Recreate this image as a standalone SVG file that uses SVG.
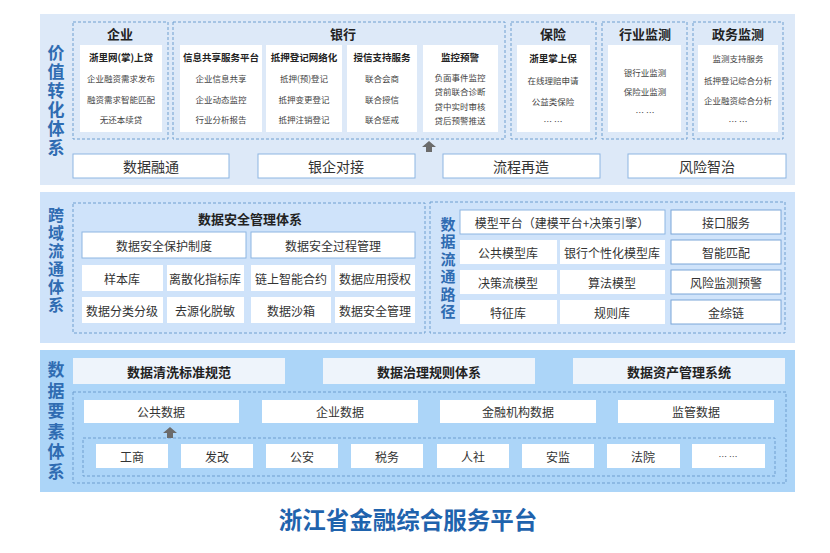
<svg xmlns="http://www.w3.org/2000/svg" width="830" height="553" viewBox="0 0 830 553">
<style>
text{font-family:"Noto Sans CJK SC","Noto Sans",sans-serif;text-anchor:middle;dominant-baseline:central}
.band1{fill:#dde9f8}
.band2{fill:#cfe3fa}
.band3{fill:#acd5f8}
.dash{fill:none;stroke:#6f9fd0;stroke-width:1;stroke-dasharray:3 2}
.wb{fill:#ffffff}
.bar{fill:#ffffff;stroke:#8db6e2;stroke-width:1}
.bb{fill:#ffffff;stroke:#7aa6d8;stroke-width:1}
.hb{fill:#eef4fb}
.vt{writing-mode:vertical-rl;text-anchor:start;font-weight:bold;fill:#2f6cb2}
.gh{font-size:13px;font-weight:bold;fill:#222}
.bt{font-size:9.5px;font-weight:bold;fill:#222}
.it{font-size:8.5px;fill:#444}
.bx{font-size:14px;fill:#333}
.md{font-size:12px;fill:#333}
.mh{font-size:13px;font-weight:bold;fill:#222}
.arr{fill:#6b6b6b}
</style>

<!-- Section backgrounds -->
<g id="bg">
<rect class="band1" x="40" y="14" width="755" height="171"/>
<rect class="band2" x="40" y="192" width="755" height="151"/>
<rect class="band3" x="40" y="350" width="755" height="142"/>
</g>

<!-- Top: 价值转化体系 -->
<g id="label-value">
<text class="vt" x="56" y="44.5" style="font-size:17px;letter-spacing:2px">价值转化体系</text>
</g>

<g id="grp-enterprise">
<rect class="dash" x="73" y="22" width="95" height="117"/>
<text class="gh" x="120" y="33">企业</text>
<rect class="wb" x="80" y="45" width="82" height="87"/>
<text class="bt" x="121" y="57">浙里网(掌)上贷</text>
<text class="it" x="121" y="78">企业融资需求发布</text>
<text class="it" x="121" y="99">融资需求智能匹配</text>
<text class="it" x="121" y="119">无还本续贷</text>
</g>

<g id="grp-bank">
<rect class="dash" x="173" y="22" width="332" height="117"/>
<text class="gh" x="343" y="33">银行</text>
<g id="bank-info">
<rect class="wb" x="180" y="45" width="82" height="87"/>
<text class="bt" x="221" y="57">信息共享服务平台</text>
<text class="it" x="221" y="78">企业信息共享</text>
<text class="it" x="221" y="99">企业动态监控</text>
<text class="it" x="221" y="119">行业分析报告</text>
</g>
<g id="bank-mortgage">
<rect class="wb" x="266" y="45" width="76" height="87"/>
<text class="bt" x="304" y="57">抵押登记网络化</text>
<text class="it" x="304" y="78">抵押(预)登记</text>
<text class="it" x="304" y="99">抵押变更登记</text>
<text class="it" x="304" y="119">抵押注销登记</text>
</g>
<g id="bank-credit">
<rect class="wb" x="347" y="45" width="70" height="87"/>
<text class="bt" x="382" y="57">授信支持服务</text>
<text class="it" x="382" y="78">联合会商</text>
<text class="it" x="382" y="99">联合授信</text>
<text class="it" x="382" y="119">联合惩戒</text>
</g>
<g id="bank-warning">
<rect class="wb" x="423" y="45" width="75" height="87"/>
<text class="bt" x="460" y="57">监控预警</text>
<text class="it" x="460" y="77">负面事件监控</text>
<text class="it" x="460" y="91">贷前联合诊断</text>
<text class="it" x="460" y="106">贷中实时审核</text>
<text class="it" x="460" y="120">贷后预警推送</text>
</g>
</g>

<g id="grp-insurance">
<rect class="dash" x="511" y="22" width="85" height="117"/>
<text class="gh" x="553" y="33">保险</text>
<rect class="wb" x="517" y="45" width="73" height="87"/>
<text class="bt" x="553" y="58">浙里掌上保</text>
<text class="it" x="553" y="80">在线理赔申请</text>
<text class="it" x="553" y="101">公益类保险</text>
<text class="it" x="553" y="121">… …</text>
</g>

<g id="grp-industry">
<rect class="dash" x="602" y="22" width="85" height="117"/>
<text class="gh" x="645" y="33">行业监测</text>
<rect class="wb" x="608" y="45" width="73" height="87"/>
<text class="it" x="645" y="72">银行业监测</text>
<text class="it" x="645" y="91">保险业监测</text>
<text class="it" x="645" y="112">… …</text>
</g>

<g id="grp-gov">
<rect class="dash" x="693" y="22" width="90" height="117"/>
<text class="gh" x="738" y="33">政务监测</text>
<rect class="wb" x="698" y="45" width="80" height="87"/>
<text class="it" x="738" y="58">监测支持服务</text>
<text class="it" x="738" y="80">抵押登记综合分析</text>
<text class="it" x="738" y="100">企业融资综合分析</text>
<text class="it" x="738" y="121">… …</text>
</g>

<g id="top-bars">
<g id="bar-fusion"><rect class="bar" x="73" y="154" width="156" height="24"/><text class="bx" x="151" y="166">数据融通</text></g>
<g id="bar-bankent"><rect class="bar" x="258" y="154" width="157" height="24"/><text class="bx" x="336" y="166">银企对接</text></g>
<g id="bar-process"><rect class="bar" x="443" y="154" width="157" height="24"/><text class="bx" x="521" y="166">流程再造</text></g>
<g id="bar-risk"><rect class="bar" x="628" y="154" width="158" height="24"/><text class="bx" x="707" y="166">风险智治</text></g>
</g>

<!-- Middle: 跨域流通体系 -->
<g id="label-cross">
<text class="vt" x="56" y="207" style="font-size:16px;letter-spacing:2px">跨域流通体系</text>
</g>

<g id="grp-security">
<rect class="dash" x="73" y="203" width="352" height="130"/>
<text class="mh" x="250" y="218">数据安全管理体系</text>
<rect class="bar" x="82" y="232" width="164" height="26"/><text class="md" x="164" y="245">数据安全保护制度</text>
<rect class="bar" x="251" y="232" width="164" height="26"/><text class="md" x="333" y="245">数据安全过程管理</text>
<rect class="wb" x="82" y="265" width="81" height="26"/><text class="md" x="122" y="278">样本库</text>
<rect class="wb" x="167" y="265" width="77" height="26"/><text class="md" x="205" y="278">离散化指标库</text>
<rect class="wb" x="251" y="265" width="80" height="26"/><text class="md" x="291" y="278">链上智能合约</text>
<rect class="wb" x="335" y="265" width="80" height="26"/><text class="md" x="375" y="278">数据应用授权</text>
<rect class="wb" x="82" y="297" width="81" height="26"/><text class="md" x="122" y="310">数据分类分级</text>
<rect class="wb" x="167" y="297" width="77" height="26"/><text class="md" x="205" y="310">去源化脱敏</text>
<rect class="wb" x="251" y="297" width="80" height="26"/><text class="md" x="291" y="310">数据沙箱</text>
<rect class="wb" x="335" y="297" width="80" height="26"/><text class="md" x="375" y="310">数据安全管理</text>
</g>

<g id="grp-path">
<rect class="dash" x="430" y="202" width="355" height="131"/>
<text class="vt" x="448" y="216.5" style="font-size:15px;letter-spacing:2.5px">数据流通路径</text>
<rect class="bar" x="460" y="210" width="205" height="24"/><text class="md" x="562" y="222">模型平台（建模平台+决策引擎）</text>
<rect class="bb" x="671" y="210" width="110" height="24"/><text class="md" x="726" y="222">接口服务</text>
<rect class="wb" x="460" y="240" width="97" height="24"/><text class="md" x="508" y="252">公共模型库</text>
<rect class="wb" x="560" y="240" width="105" height="24"/><text class="md" x="612" y="252">银行个性化模型库</text>
<rect class="bb" x="671" y="240" width="110" height="24"/><text class="md" x="726" y="252">智能匹配</text>
<rect class="wb" x="460" y="270" width="97" height="24"/><text class="md" x="508" y="282">决策流模型</text>
<rect class="wb" x="560" y="270" width="105" height="24"/><text class="md" x="612" y="282">算法模型</text>
<rect class="bb" x="671" y="270" width="110" height="24"/><text class="md" x="726" y="282">风险监测预警</text>
<rect class="wb" x="460" y="300" width="97" height="24"/><text class="md" x="508" y="312">特征库</text>
<rect class="wb" x="560" y="300" width="105" height="24"/><text class="md" x="612" y="312">规则库</text>
<rect class="bb" x="671" y="300" width="110" height="24"/><text class="md" x="726" y="312">金综链</text>
</g>

<!-- Bottom: 数据要素体系 -->
<g id="label-data">
<text class="vt" x="56" y="361.5" style="font-size:17px;letter-spacing:3.4px">数据要素体系</text>
</g>

<g id="grp-headers">
<rect class="hb" x="73" y="358" width="212" height="26"/><text class="mh" x="179" y="371">数据清洗标准规范</text>
<rect class="hb" x="323" y="358" width="212" height="26"/><text class="mh" x="429" y="371">数据治理规则体系</text>
<rect class="hb" x="573" y="358" width="212" height="26"/><text class="mh" x="679" y="371">数据资产管理系统</text>
</g>

<g id="grp-data">
<rect class="dash" x="73" y="392" width="713" height="91"/>
<rect class="wb" x="84" y="400" width="155" height="23"/><text class="md" x="161" y="411">公共数据</text>
<rect class="wb" x="262" y="400" width="156" height="23"/><text class="md" x="340" y="411">企业数据</text>
<rect class="wb" x="440" y="400" width="156" height="23"/><text class="md" x="518" y="411">金融机构数据</text>
<rect class="wb" x="618" y="400" width="156" height="23"/><text class="md" x="696" y="411">监管数据</text>
<rect class="dash" x="83" y="438" width="692" height="38"/>
<rect class="wb" x="96" y="444" width="72" height="24"/><text class="md" x="132" y="456">工商</text>
<rect class="wb" x="181" y="444" width="72" height="24"/><text class="md" x="217" y="456">发改</text>
<rect class="wb" x="266" y="444" width="72" height="24"/><text class="md" x="302" y="456">公安</text>
<rect class="wb" x="351" y="444" width="72" height="24"/><text class="md" x="387" y="456">税务</text>
<rect class="wb" x="437" y="444" width="72" height="24"/><text class="md" x="473" y="456">人社</text>
<rect class="wb" x="522" y="444" width="72" height="24"/><text class="md" x="558" y="456">安监</text>
<rect class="wb" x="607" y="444" width="73" height="24"/><text class="md" x="643" y="456">法院</text>
<rect class="wb" x="692" y="444" width="73" height="24"/><text class="it" x="728" y="456">… …</text>
</g>

<g id="connectors">
<path class="arr" d="M429,141 L422,147 L426,147 L426,152 L432,152 L432,147 L436,147 Z"/>
<path class="arr" d="M170,427 L163,433 L167,433 L167,438 L173,438 L173,433 L177,433 Z"/>
</g>

<text x="408" y="519" style="font-size:23.5px;font-weight:bold;fill:#1f63ad">浙江省金融综合服务平台</text>
</svg>
